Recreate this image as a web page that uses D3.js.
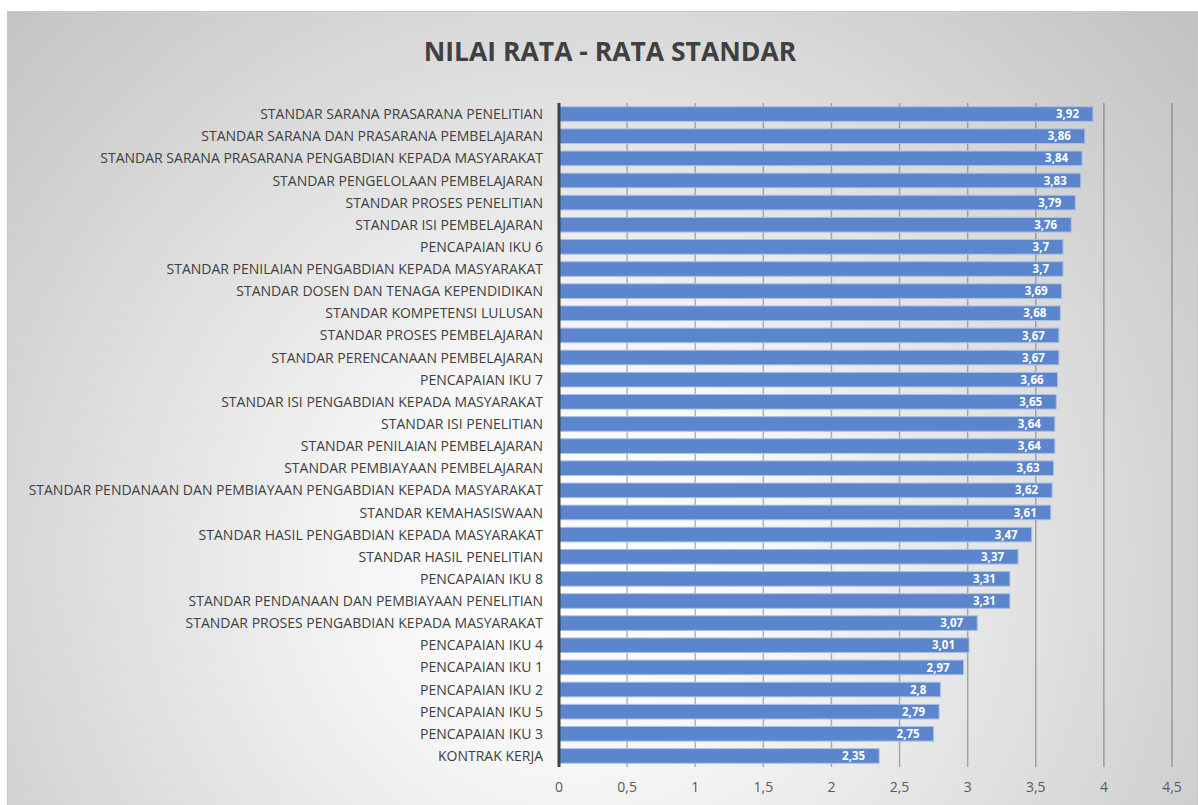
<!DOCTYPE html>
<html>
<head>
<meta charset="utf-8">
<script src="https://cdn.jsdelivr.net/npm/d3@7"></script>
<style>
  html, body { margin: 0; padding: 0; background: #fff; }
  svg text { font-family: "Open Sans", "Noto Sans", sans-serif; }
</style>
</head>
<body>
<svg id="chart" width="1198" height="805"></svg>
<script>
// data, top to bottom as in the reference
const categories = [
  "STANDAR SARANA PRASARANA PENELITIAN",
  "STANDAR SARANA DAN PRASARANA PEMBELAJARAN",
  "STANDAR SARANA PRASARANA PENGABDIAN KEPADA MASYARAKAT",
  "STANDAR PENGELOLAAN PEMBELAJARAN",
  "STANDAR PROSES PENELITIAN",
  "STANDAR ISI PEMBELAJARAN",
  "PENCAPAIAN IKU 6",
  "STANDAR PENILAIAN PENGABDIAN KEPADA MASYARAKAT",
  "STANDAR DOSEN DAN TENAGA KEPENDIDIKAN",
  "STANDAR KOMPETENSI LULUSAN",
  "STANDAR PROSES PEMBELAJARAN",
  "STANDAR PERENCANAAN PEMBELAJARAN",
  "PENCAPAIAN IKU 7",
  "STANDAR ISI PENGABDIAN KEPADA MASYARAKAT",
  "STANDAR ISI PENELITIAN",
  "STANDAR PENILAIAN PEMBELAJARAN",
  "STANDAR PEMBIAYAAN PEMBELAJARAN",
  "STANDAR PENDANAAN DAN PEMBIAYAAN PENGABDIAN KEPADA MASYARAKAT",
  "STANDAR KEMAHASISWAAN",
  "STANDAR HASIL PENGABDIAN KEPADA MASYARAKAT",
  "STANDAR HASIL PENELITIAN",
  "PENCAPAIAN IKU 8",
  "STANDAR PENDANAAN DAN PEMBIAYAAN PENELITIAN",
  "STANDAR PROSES PENGABDIAN KEPADA MASYARAKAT",
  "PENCAPAIAN IKU 4",
  "PENCAPAIAN IKU 1",
  "PENCAPAIAN IKU 2",
  "PENCAPAIAN IKU 5",
  "PENCAPAIAN IKU 3",
  "KONTRAK KERJA"
];
const values = [3.92, 3.86, 3.84, 3.83, 3.79, 3.76, 3.7, 3.7, 3.69, 3.68, 3.67, 3.67, 3.66, 3.65, 3.64,
  3.64, 3.63, 3.62, 3.61, 3.47, 3.37, 3.31, 3.31, 3.07, 3.01, 2.97, 2.8, 2.79, 2.75, 2.35];
const xTicks = [0, 0.5, 1, 1.5, 2, 2.5, 3, 3.5, 4, 4.5];
const title = "NILAI RATA - RATA STANDAR";

const W = 1198, H = 805;
const svg = d3.select("#chart");
const fmt = v => String(v).replace(".", ",");

// chart area background
const defs = svg.append("defs");
const grad = defs.append("radialGradient")
  .attr("id", "bg")
  .attr("gradientUnits", "userSpaceOnUse")
  .attr("cx", 580).attr("cy", 560).attr("r", 800);
grad.append("stop").attr("offset", "0").attr("stop-color", "#ffffff");
grad.append("stop").attr("offset", "0.25").attr("stop-color", "#f7f7f7");
grad.append("stop").attr("offset", "1").attr("stop-color", "#c3c3c3");

svg.append("rect")
  .attr("x", 7.5).attr("y", 11.5)
  .attr("width", W - 8).attr("height", H - 11)
  .attr("fill", "url(#bg)")
  .attr("stroke", "#c8c8c8");

const margin = { left: 559, right: 26, top: 103, bottom: 38 };

const x = d3.scaleLinear()
  .domain([0, 4.5])
  .range([margin.left, W - margin.right]);

const y = d3.scaleBand()
  .domain(categories)
  .range([margin.top, H - margin.bottom])
  .paddingInner(0.34)
  .paddingOuter(0.17);

// title
svg.append("text")
  .attr("x", 610).attr("y", 61)
  .attr("text-anchor", "middle")
  .attr("font-size", 26.5)
  .attr("font-weight", "bold")
  .attr("fill", "#404040")
  .text(title);

// vertical gridlines
svg.append("g")
  .selectAll("line")
  .data(xTicks.filter(d => d > 0))
  .join("line")
  .attr("x1", d => x(d)).attr("x2", d => x(d))
  .attr("y1", margin.top).attr("y2", H - margin.bottom)
  .attr("stroke", "#000")
  .attr("stroke-opacity", 0.28)
  .attr("stroke-width", 1.5);

// bars
svg.append("g")
  .selectAll("rect")
  .data(values)
  .join("rect")
  .attr("x", x(0))
  .attr("y", (d, i) => y(categories[i]))
  .attr("width", d => x(d) - x(0))
  .attr("height", y.bandwidth())
  .attr("fill", "#5b85cd")
  .attr("stroke", "#a9bfe6")
  .attr("stroke-width", 1);

// value labels
svg.append("g")
  .selectAll("text")
  .data(values)
  .join("text")
  .attr("x", d => x(d) - 14)
  .attr("y", (d, i) => y(categories[i]) + y.bandwidth() / 2)
  .attr("dy", "0.36em")
  .attr("text-anchor", "end")
  .attr("font-size", 11.5)
  .attr("font-weight", "bold")
  .attr("fill", "#fff")
  .text(fmt);

// category labels
svg.append("g")
  .selectAll("text")
  .data(categories)
  .join("text")
  .attr("x", 543)
  .attr("y", d => y(d) + y.bandwidth() / 2)
  .attr("dy", "0.36em")
  .attr("text-anchor", "end")
  .attr("font-size", 14)
  .attr("fill", "#404040")
  .text(d => d);

// zero axis line
svg.append("line")
  .attr("x1", x(0)).attr("x2", x(0))
  .attr("y1", margin.top).attr("y2", H - margin.bottom)
  .attr("stroke", "#404040")
  .attr("stroke-width", 3);

// x tick labels
svg.append("g")
  .selectAll("text")
  .data(xTicks)
  .join("text")
  .attr("x", d => x(d))
  .attr("y", 792)
  .attr("text-anchor", "middle")
  .attr("font-size", 14)
  .attr("fill", "#595959")
  .text(fmt);
</script>
</body>
</html>
